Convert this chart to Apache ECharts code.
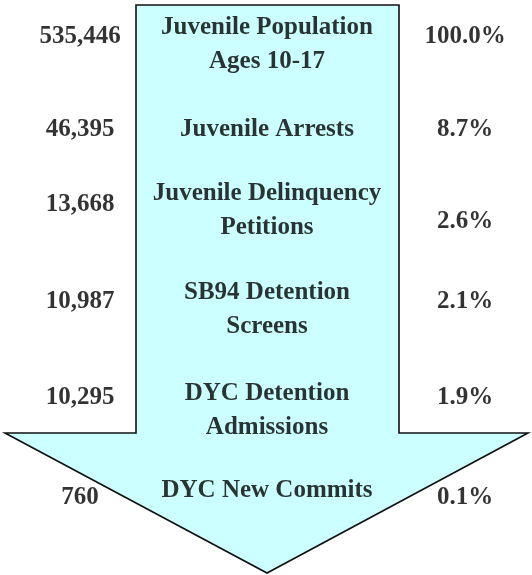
<!DOCTYPE html>
<html lang="en">
<head>
<meta charset="UTF-8">
<title>Juvenile Justice Flow</title>
<style>html,body{margin:0;padding:0;background:#fff}</style>
</head>
<body>
<div id="main" style="width:532px;height:575px;"></div>
<script src="https://cdn.jsdelivr.net/npm/echarts@6/dist/echarts.min.js"></script>
<script>
var stages = ['Juvenile Population\nAges 10-17', 'Juvenile Arrests', 'Juvenile Delinquency\nPetitions',
    'SB94 Detention\nScreens', 'DYC Detention\nAdmissions', 'DYC New Commits'];
var counts = [535446, 46395, 13668, 10987, 10295, 760];
var percents = [100.0, 8.7, 2.6, 2.1, 1.9, 0.1];

// layout, in the pixel space of the 532x575 canvas
var countX = 80, percentX = 465, stageX = 267;
var countY = [37, 130, 205, 302, 398, 498];
var percentY = [37, 130, 222, 302, 398, 498];
var stageY = [45, 130, 211, 310, 411, 491];
var arrowShape = [[136, 5], [399, 5], [399, 433], [528, 433], [267, 573], [5, 433], [136, 433]];

var font = {
    fontFamily: 'Liberation Serif', fontWeight: 'bold', fontSize: 25,
    color: '#000', textBorderWidth: 0, textShadowBlur: 0
};

function textSeries(x, ys, fmt, extra) {
    return {
        type: 'scatter',
        symbolSize: 1,
        itemStyle: { color: 'rgba(0,0,0,0)' },
        silent: true,
        z: 5,
        data: ys.map(function (y, i) { return [x, y, i]; }),
        label: Object.assign({
            show: true,
            position: 'inside',
            align: 'center',
            verticalAlign: 'middle',
            formatter: function (p) { return fmt(p.value[2]); }
        }, font, extra || {})
    };
}

var myChart = echarts.init(document.getElementById('main'));

var option = {
    animation: false,
    grid: { left: 0, right: 0, top: 0, bottom: 0 },
    xAxis: { type: 'value', min: 0, max: 532, show: false },
    yAxis: { type: 'value', min: 0, max: 575, inverse: true, show: false },
    series: [
        {
            type: 'custom',
            silent: true,
            clip: false,
            data: [0],
            renderItem: function (params, api) {
                return {
                    type: 'polygon',
                    shape: { points: arrowShape.map(function (p) { return api.coord(p); }) },
                    style: { fill: '#CCFFFF', stroke: '#111', lineWidth: 1.6 }
                };
            }
        },
        textSeries(countX, countY, function (i) { return counts[i].toLocaleString('en-US'); }),
        textSeries(percentX, percentY, function (i) { return percents[i].toFixed(1) + '%'; }),
        textSeries(stageX, stageY, function (i) { return stages[i]; }, { lineHeight: 34 })
    ]
};

myChart.setOption(option);
</script>
</body>
</html>
